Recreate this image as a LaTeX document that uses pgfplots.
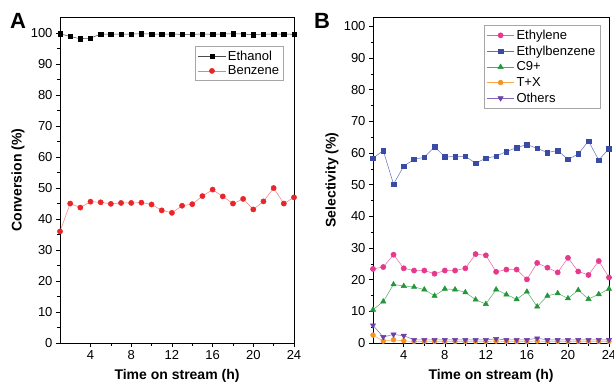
\documentclass[border=0pt]{standalone}
\usepackage{pgfplots}
\pgfplotsset{compat=1.18}
\usepackage{fontspec}
\setmainfont{Liberation Sans}
\definecolor{cpink}{HTML}{E6388C}
\definecolor{cblue}{HTML}{3A4BA6}
\definecolor{cgreen}{HTML}{23963A}
\definecolor{corange}{HTML}{F7941D}
\definecolor{cpurple}{HTML}{6B3FA8}
\definecolor{cred}{HTML}{E8262A}
\pgfplotsset{
  myaxis/.style={
    scale only axis,
    anchor=south west,
    xmin=1, xmax=24, ymin=0,
    xtick={4,8,12,16,20,24},
    minor x tick num=1,
    ytick={0,10,...,100},
    minor y tick num=1,
    tick align=outside,
    tick pos=left,
    major tick length=4pt,
    minor tick length=2.5pt,
    every tick/.style={black, line width=0.6pt},
    axis line style={line width=0.6pt},
    tick label style={font=\fontsize{13}{13}\selectfont},
    /pgf/number format/assume math mode=true,
    xlabel={Time on stream (h)},
    label style={font=\fontsize{14}{14}\selectfont\bfseries},
    xlabel style={at={(axis description cs:0.5,-0.10)}, anchor=center},
    legend style={font=\fontsize{13}{13}\selectfont, draw=gray!70, line width=0.5pt, inner sep=2.5pt, row sep=1pt,
      /tikz/every even column/.append style={column sep=2pt}},
    legend image code/.code={\draw[mark repeat=2,mark phase=2] plot coordinates {(0cm,0cm) (0.48cm,0cm) (0.96cm,0cm)};},
    legend cell align=left,
    every axis plot/.append style={line width=0.5pt},
  }
}
\begin{document}
\begin{tikzpicture}
\path[use as bounding box] (0pt,0pt) rectangle (614pt,384pt);
\begin{axis}[myaxis, at={(60pt,41pt)}, width=234pt, height=326pt, ymax=105.2,
  ylabel={Conversion (\%)},
  ylabel style={at={(axis description cs:-0.18,0.5)}, anchor=center},
  legend style={at={(axis description cs:0.957,0.911)}, anchor=north east, row sep=0pt}]
\addplot[black!70, mark=square*, mark size=2.2pt, mark options={black, fill=black}] coordinates {
(1,99.8)(2,98.9)(3,98.2)(4,98.4)(5,99.7)(6,99.7)(7,99.7)(8,99.7)(9,99.8)(10,99.7)(11,99.7)(12,99.7)
(13,99.6)(14,99.6)(15,99.7)(16,99.6)(17,99.7)(18,99.8)(19,99.7)(20,99.5)(21,99.7)(22,99.7)(23,99.7)(24,99.6)};
\addlegendentry{Ethanol}
\addplot[cred!60, mark=*, mark size=2.6pt, mark options={cred, fill=cred}] coordinates {
(1,36.0)(2,45.0)(3,43.7)(4,45.6)(5,45.4)(6,44.9)(7,45.2)(8,45.2)(9,45.3)(10,44.7)(11,42.8)(12,42.0)
(13,44.3)(14,44.8)(15,47.4)(16,49.5)(17,47.3)(18,45.0)(19,46.5)(20,43.1)(21,45.7)(22,50.0)(23,45.0)(24,47.0)};
\addlegendentry{Benzene}
\end{axis}
\begin{axis}[myaxis, at={(373pt,41pt)}, width=236pt, height=326pt, ymax=103,
  ylabel={Selectivity (\%)},
  ylabel style={at={(axis description cs:-0.174,0.5)}, anchor=center},
  legend style={at={(axis description cs:0.962,0.975)}, anchor=north east}]
\addplot[cpink!80, mark=*, mark size=2.6pt, mark options={cpink, fill=cpink}] coordinates {
(1,23.4)(2,24.0)(3,27.9)(4,23.6)(5,22.9)(6,22.9)(7,21.9)(8,22.9)(9,22.9)(10,23.6)(11,28.1)(12,27.7)
(13,22.5)(14,23.2)(15,23.2)(16,20.1)(17,25.3)(18,23.8)(19,22.3)(20,26.9)(21,22.6)(22,21.5)(23,25.9)(24,20.7)};
\addlegendentry{Ethylene}
\addplot[cblue!80, mark=square*, mark size=2.3pt, mark options={cblue, fill=cblue}] coordinates {
(1,58.4)(2,60.8)(3,50.2)(4,55.9)(5,58.0)(6,58.7)(7,62.0)(8,58.8)(9,58.9)(10,59.0)(11,56.8)(12,58.4)
(13,59.0)(14,60.5)(15,61.7)(16,62.7)(17,61.5)(18,60.2)(19,60.8)(20,58.0)(21,59.7)(22,63.8)(23,57.8)(24,61.4)};
\addlegendentry{Ethylbenzene}
\addplot[cgreen!80, mark=triangle*, mark size=3pt, mark options={cgreen, fill=cgreen}] coordinates {
(1,10.5)(2,13.1)(3,18.5)(4,18.0)(5,17.7)(6,16.9)(7,14.9)(8,17.1)(9,16.9)(10,16.0)(11,13.7)(12,12.3)
(13,16.9)(14,15.3)(15,13.8)(16,16.2)(17,11.5)(18,14.9)(19,15.7)(20,14.1)(21,16.7)(22,13.9)(23,15.4)(24,17.1)};
\addlegendentry{C9+}
\addplot[corange!80, mark=*, mark size=2.4pt, mark options={corange, fill=corange}] coordinates {
(1,2.5)(2,0.6)(3,1.0)(4,0.7)(5,0.5)(6,0.5)(7,0.5)(8,0.5)(9,0.5)(10,0.5)(11,0.5)(12,0.5)
(13,0.6)(14,0.5)(15,0.5)(16,0.5)(17,0.6)(18,0.5)(19,0.5)(20,0.5)(21,0.5)(22,0.5)(23,0.5)(24,0.5)};
\addlegendentry{T+X}
\addplot[cpurple!80, mark=triangle*, mark size=3pt, mark options={cpurple, fill=cpurple, rotate=180}] coordinates {
(1,5.6)(2,1.9)(3,2.7)(4,2.3)(5,1.0)(6,1.0)(7,1.0)(8,1.0)(9,1.0)(10,1.0)(11,1.0)(12,1.0)
(13,1.3)(14,1.0)(15,1.0)(16,1.0)(17,1.5)(18,1.0)(19,1.0)(20,1.0)(21,1.0)(22,1.0)(23,1.0)(24,1.0)};
\addlegendentry{Others}
\end{axis}
\node[font=\fontsize{22}{22}\selectfont\bfseries] at (18pt,363pt) {A};
\node[font=\fontsize{22}{22}\selectfont\bfseries] at (322pt,363pt) {B};
\end{tikzpicture}
\end{document}
